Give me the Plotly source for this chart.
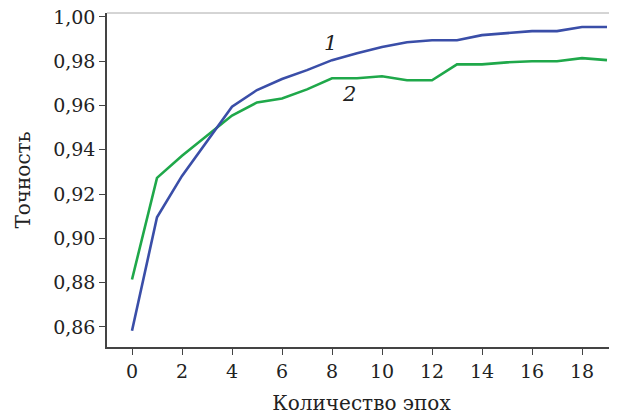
import plotly.graph_objects as go

epochs = list(range(20))
acc_1 = [0.8582, 0.9095, 0.9282, 0.9440, 0.9595, 0.9670, 0.9720, 0.9760, 0.9805, 0.9836,
         0.9864, 0.9886, 0.9895, 0.9895, 0.9918, 0.9927, 0.9936, 0.9936, 0.9955, 0.9955]
acc_2 = [0.8814, 0.9273, 0.9373, 0.9464, 0.9555, 0.9614, 0.9632, 0.9673, 0.9723, 0.9723,
         0.9732, 0.9714, 0.9714, 0.9786, 0.9786, 0.9795, 0.9800, 0.9800, 0.9814, 0.9805]
x_ticks = list(range(0, 19, 2))
y_ticks = [0.86, 0.88, 0.90, 0.92, 0.94, 0.96, 0.98, 1.00]

FONT = "DejaVu Serif"

fig = go.Figure()
fig.add_trace(go.Scatter(x=epochs, y=acc_2, mode="lines",
                         line=dict(color="#1fa84a", width=2.6), showlegend=False))
fig.add_trace(go.Scatter(x=epochs, y=acc_1, mode="lines",
                         line=dict(color="#3a4ea8", width=2.6), showlegend=False))

fig.add_annotation(x=7.92, y=0.9882, text="<i>1</i>", showarrow=False,
                   font=dict(family=FONT, size=21, color="#222"))
fig.add_annotation(x=8.68, y=0.9650, text="<i>2</i>", showarrow=False,
                   font=dict(family=FONT, size=21, color="#222"))

fig.add_shape(type="line", xref="paper", yref="paper", x0=0, x1=1, y0=1, y1=1,
              line=dict(color="#aaaaaa", width=1))

# page body has an 8px default margin; figure is sized to fill the rest of the window
fig.update_layout(
    width=609, height=407,
    margin=dict(l=99, r=1, t=5, b=68),
    paper_bgcolor="white", plot_bgcolor="white",
    separators=",.",
    font=dict(family=FONT, color="#222"),
    xaxis=dict(range=[-1, 19.36], tickvals=x_ticks, ticks="outside", ticklen=6,
               tickcolor="#444", showline=True, linecolor="#444", linewidth=1.5,
               showgrid=False, zeroline=False, automargin=False,
               ticklabeloverflow="allow",
               tickfont=dict(size=19, family=FONT),
               title=dict(text="Количество эпох", font=dict(size=20, family=FONT), standoff=16)),
    yaxis=dict(range=[0.8509, 1.0018], tickvals=y_ticks, tickformat=".2f", ticks="outside",
               ticklen=6, tickcolor="#444", showline=True, linecolor="#444", linewidth=1.5,
               showgrid=False, zeroline=False, automargin=False,
               ticklabeloverflow="allow",
               tickfont=dict(size=19, family=FONT),
               title=dict(text="Точность", font=dict(size=20, family=FONT), standoff=17)),
)

fig.write_html("out.html")
